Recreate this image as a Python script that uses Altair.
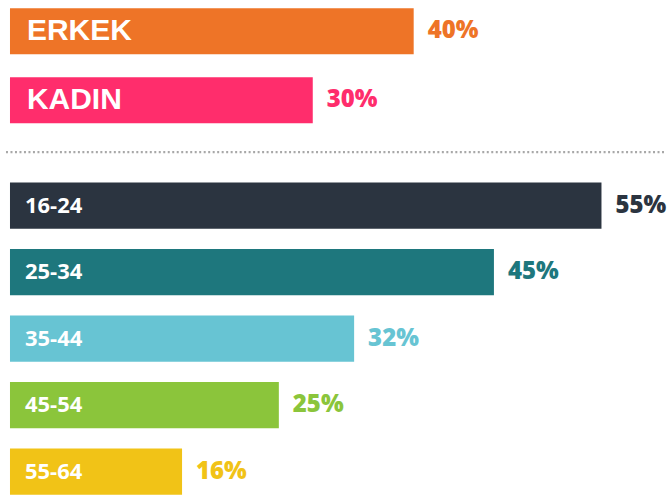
import altair as alt
import pandas as pd

# ---- data ----
gender_cats = ["ERKEK", "KADIN"]
gender_vals = [40, 30]
gender_colors = ["#EE7427", "#FF2D6C"]

age_cats = ["16-24", "25-34", "35-44", "45-54", "55-64"]
age_vals = [55, 45, 32, 25, 16]
age_colors = ["#2B3440", "#1E777D", "#67C4D3", "#8BC53B", "#F1C317"]

W = 657

gdf = pd.DataFrame({"cat": gender_cats, "val": gender_vals})
gdf["label"] = [f"{v}%" for v in gender_vals]
adf = pd.DataFrame({"cat": age_cats, "val": age_vals})
adf["label"] = [f"{v}%" for v in age_vals]


def panel(df, cats, colors, xmax, height, pi, po, align, name_font, name_size, name_x):
    y = alt.Y("cat:N", sort=cats, axis=None,
              scale=alt.Scale(paddingInner=pi, paddingOuter=po, align=align))
    color = alt.Color("cat:N", scale=alt.Scale(domain=cats, range=colors), legend=None)
    xs = alt.Scale(domain=[0, xmax], nice=False, zero=True)
    base = alt.Chart(df)
    bars = base.mark_bar(cornerRadius=0).encode(
        x=alt.X("val:Q", scale=xs, axis=None), y=y, color=color)
    names = base.mark_text(align="left", baseline="middle", font=name_font,
                           fontSize=name_size, fontWeight="bold", color="white").encode(
        x=alt.value(name_x), y=y, text="cat:N")
    vals = base.mark_text(align="left", baseline="middle", font="Open Sans",
                          fontSize=24, fontWeight=800, dx=14).encode(
        x=alt.X("val:Q", scale=xs, axis=None), y=y, text="label:N", color=color)
    return alt.layer(bars, names, vals).properties(width=W, height=height)


top = panel(gdf, gender_cats, gender_colors, 65, 131, 0.333, 0.116, 0.5,
            "Liberation Sans", 30, 17)

divider = alt.Chart(pd.DataFrame({"d": [0]})).mark_rule(
    color="#A8A8A8", strokeWidth=2.2, strokeDash=[2, 2.5]).encode(
    x=alt.value(-4), x2=alt.value(W - 2), y=alt.value(21)).properties(width=W, height=43)

bottom = panel(adf, age_cats, age_colors, 61, 321, 0.308, 0.064, 1,
               "Open Sans", 22, 15)

chart = alt.vconcat(top, divider, bottom, spacing=0, bounds="flush").resolve_scale(
    color="independent", x="independent", y="independent"
).properties(
    padding={"left": 4, "top": 0, "right": 0, "bottom": 0},
    background="white",
).configure_view(stroke=None)

chart.save("out.html", embed_options={"renderer": "svg", "actions": False})
